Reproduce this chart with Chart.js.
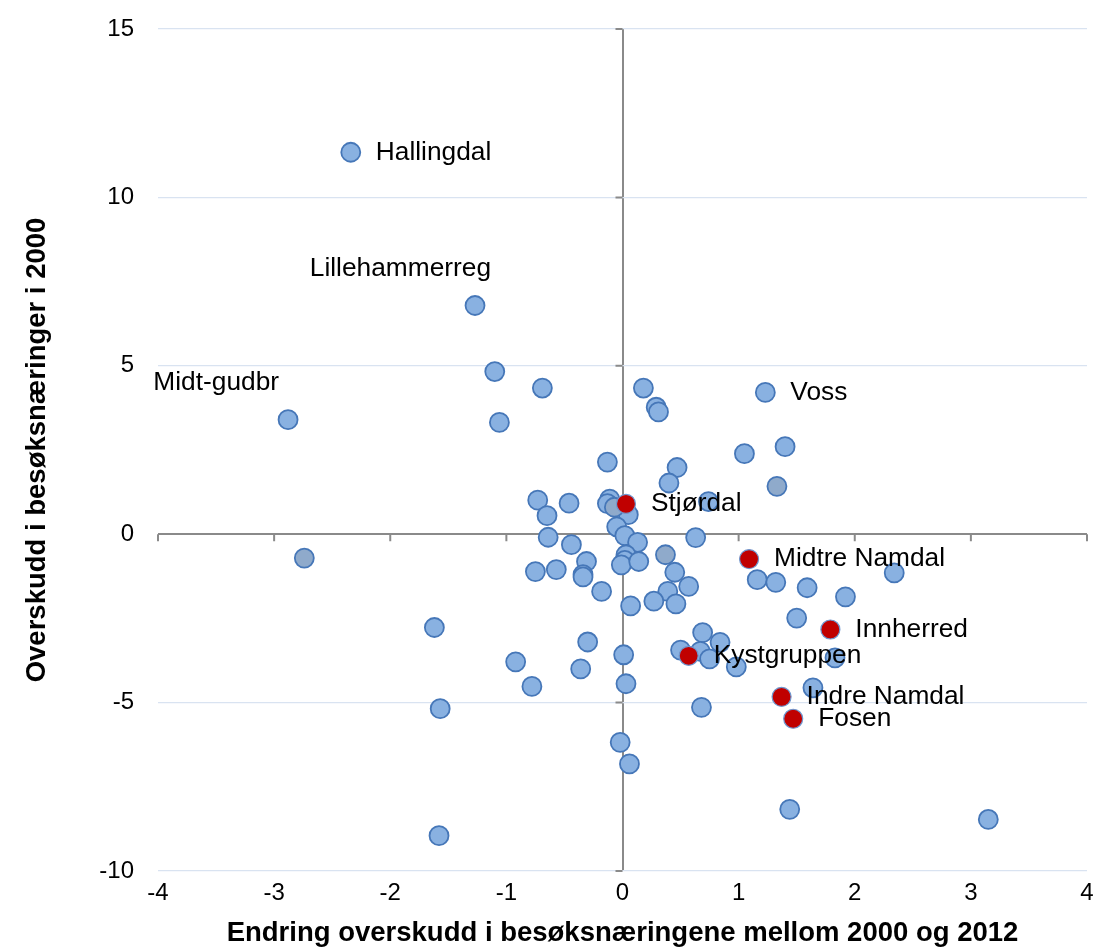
<!DOCTYPE html>
<html><head><meta charset="utf-8">
<script src="https://cdn.jsdelivr.net/npm/chart.js@4.4.1/dist/chart.umd.min.js"></script>
<style>html,body{margin:0;padding:0;background:#fff;}</style>
</head><body>
<canvas id="c" width="1100" height="947" style="width:1100px;height:947px;display:block"></canvas>
<script>
// Tick values
const xTicks = [-4, -3, -2, -1, 0, 1, 2, 3, 4];
const yTicks = [-10, -5, 0, 5, 10, 15];

// Labelled blue regions
const labelledNames = ['Hallingdal', 'Lillehammerreg', 'Midt-gudbr', 'Voss'];
const labelledX = [-2.34, -1.27, -2.88, 1.23];
const labelledY = [11.34, 6.79, 3.40, 4.21];

// Other blue regions
const blueX = [-1.10, -0.69, -1.06, 0.18, 0.29, 0.31, 1.40, 1.05, -0.13, 0.47, 0.40, 0.74, -0.73, -0.46, -0.65,
  -0.11, -0.13, 0.05, -0.05, 0.02, 0.13, -0.64, -0.44, -0.31, -0.34, -0.34, -0.75, -0.57, -0.18, 0.03, 0.02,
  -0.01, 0.14, 0.63, 0.45, 0.57, 0.39, 0.27, 0.46, 0.07, 1.16, 1.32, 1.59, 1.92, 2.34, 1.50, 1.83, 1.64, 0.69,
  0.84, 0.50, 0.67, 0.75, 0.98, 0.01, 0.03, 0.68, -0.02, 0.06, -1.62, -0.92, -0.78, -0.30, -0.36, -1.57, -1.58,
  1.44, 3.15];
const blueY = [4.83, 4.34, 3.32, 4.34, 3.77, 3.63, 2.60, 2.39, 2.14, 1.98, 1.52, 0.97, 1.01, 0.92, 0.55,
  1.04, 0.91, 0.58, 0.22, -0.04, -0.24, -0.09, -0.31, -0.81, -1.20, -1.27, -1.11, -1.05, -1.70, -0.61, -0.78,
  -0.91, -0.81, -0.10, -1.13, -1.55, -1.70, -1.99, -2.07, -2.13, -1.35, -1.43, -1.59, -1.86, -1.15, -2.49, -3.67, -4.56, -2.92,
  -3.21, -3.44, -3.48, -3.70, -3.94, -3.58, -4.44, -5.14, -6.18, -6.82, -2.77, -3.79, -4.52, -3.20, -4.00, -5.18, -8.95,
  -8.17, -8.47];

// Greyish blue regions
const greyX = [-2.74, -0.07, 0.37, 1.33];
const greyY = [-0.71, 0.80, -0.61, 1.42];

// Red (Trøndelag) regions
const redNames = ['Stjørdal', 'Midtre Namdal', 'Innherred', 'Kystgruppen', 'Indre Namdal', 'Fosen'];
const redX = [0.03, 1.09, 1.79, 0.57, 1.37, 1.47];
const redY = [0.90, -0.74, -2.83, -3.61, -4.83, -5.48];

const xTitle = 'Endring overskudd i besøksnæringene mellom 2000 og 2012';
const yTitle = 'Overskudd i besøksnæringer i 2000';

const pts = (xs, ys) => xs.map((x, i) => ({x: x, y: ys[i]}));

const BLUE_FILL = '#89B1E1', BLUE_BORDER = '#4677B8', GREY_FILL = '#8FAACB', RED = '#C00000';
const AXIS = '#8A8A8A', GRID = '#D9E3F1';
const FONT = '"Liberation Sans", Arial, sans-serif';

const placement = {
  'Lillehammerreg': {align: 'right', dx: 16, dy: -37},
  'Midt-gudbr': {align: 'right', dx: -9, dy: -37}
};

const labelPlugin = {
  id: 'pointLabels',
  afterDatasetsDraw(chart) {
    const ctx = chart.ctx;
    ctx.save();
    ctx.font = '26.3px ' + FONT;
    ctx.fillStyle = '#000';
    ctx.textBaseline = 'middle';
    chart.data.datasets.forEach((ds, di) => {
      if (!ds.names) return;
      const meta = chart.getDatasetMeta(di);
      meta.data.forEach((el, i) => {
        const name = ds.names[i];
        if (!name) return;
        const p = placement[name] || {align: 'left', dx: 25, dy: 0};
        ctx.textAlign = p.align;
        ctx.fillText(name, el.x + p.dx, el.y + p.dy);
      });
    });
    ctx.restore();
  }
};

const axisTickPlugin = {
  id: 'axisTicks',
  beforeDatasetsDraw(chart) {
    const ctx = chart.ctx, xs = chart.scales.x, ys = chart.scales.y;
    const x0 = xs.getPixelForValue(0), y0 = ys.getPixelForValue(0);
    ctx.save();
    ctx.strokeStyle = AXIS;
    ctx.lineWidth = 2;
    ctx.beginPath();
    xTicks.forEach(v => {
      const px = xs.getPixelForValue(v);
      ctx.moveTo(px, y0); ctx.lineTo(px, y0 + 7);
    });
    yTicks.forEach(v => {
      const py = ys.getPixelForValue(v);
      ctx.moveTo(x0, py); ctx.lineTo(x0 - 7, py);
    });
    ctx.stroke();
    ctx.restore();
  }
};

new Chart(document.getElementById('c'), {
  type: 'scatter',
  data: {
    datasets: [
      {label: 'red', data: pts(redX, redY), names: redNames, backgroundColor: RED, borderColor: '#6F97CF',
        borderWidth: 1.2, pointRadius: 9.5, pointHoverRadius: 9.5},
      {label: 'grey', data: pts(greyX, greyY), backgroundColor: GREY_FILL, borderColor: BLUE_BORDER,
        borderWidth: 1.8, pointRadius: 9.5, pointHoverRadius: 9.5},
      {label: 'labelled', data: pts(labelledX, labelledY), names: labelledNames, backgroundColor: BLUE_FILL,
        borderColor: BLUE_BORDER, borderWidth: 1.8, pointRadius: 9.5, pointHoverRadius: 9.5},
      {label: 'blue', data: pts(blueX, blueY), backgroundColor: BLUE_FILL, borderColor: BLUE_BORDER,
        borderWidth: 1.8, pointRadius: 9.5, pointHoverRadius: 9.5}
    ]
  },
  options: {
    responsive: false,
    devicePixelRatio: 1,
    animation: false,
    events: [],
    layout: {autoPadding: false, padding: {top: 29, right: 13, bottom: 0, left: 0}},
    plugins: {legend: {display: false}, tooltip: {enabled: false}},
    scales: {
      x: {
        type: 'linear', min: -4, max: 4,
        afterBuildTicks: s => { s.ticks = xTicks.map(v => ({value: v})); },
        afterFit: s => { s.height = 76; s.paddingLeft = 0; s.paddingRight = 0; },
        ticks: {color: '#000', font: {family: FONT, size: 24}, padding: 8},
        grid: {
          drawTicks: false,
          color: c => (c.tick && c.tick.value === 0) ? AXIS : 'rgba(0,0,0,0)',
          lineWidth: c => (c.tick && c.tick.value === 0) ? 2 : 0
        },
        border: {display: false},
        title: {display: true, text: xTitle, color: '#000',
          font: {family: FONT, size: 27.5, weight: 'bold', lineHeight: 1}, padding: {top: 0, bottom: 0}}
      },
      y: {
        type: 'linear', min: -10, max: 15,
        afterBuildTicks: s => { s.ticks = yTicks.map(v => ({value: v})); },
        afterFit: s => { s.width = 158; s.paddingTop = 0; s.paddingBottom = 0; },
        ticks: {color: '#000', font: {family: FONT, size: 24}, padding: 24},
        grid: {
          drawTicks: false,
          color: c => (c.tick && c.tick.value === 0) ? AXIS : GRID,
          lineWidth: c => (c.tick && c.tick.value === 0) ? 2 : 1.3
        },
        border: {display: false},
        title: {display: true, text: yTitle, color: '#000',
          font: {family: FONT, size: 27.5, weight: 'bold', lineHeight: 1}, padding: {top: 24, bottom: 0}}
      }
    }
  },
  plugins: [axisTickPlugin, labelPlugin]
});
</script>
</body></html>
